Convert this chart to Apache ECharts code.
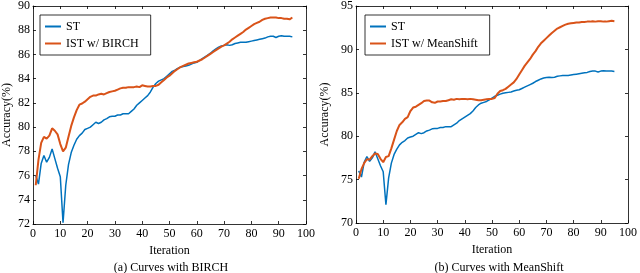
<!DOCTYPE html>
<html><head><meta charset="utf-8">
<script src="https://cdn.jsdelivr.net/npm/echarts@6/dist/echarts.min.js"></script>
<style>html,body{margin:0;padding:0;background:#fff}#c{width:640px;height:273px}</style>
</head><body><div id="c"></div>
<script>
const iterations = [];
for (let i = 1; i <= 95; i++) iterations.push(i);

const xTicks = [0,10,20,30,40,50,60,70,80,90,100];

const stValues = [
76.0,75.3,77.0,77.65,77.1,77.5,78.2,77.4,76.6,75.9,
72.1,75.2,76.9,77.9,78.5,79.0,79.3,79.5,79.8,79.9,
80.0,80.2,80.4,80.3,80.4,80.6,80.7,80.85,80.9,80.9,
81.0,81.0,81.1,81.1,81.1,81.3,81.5,81.8,82.0,82.2,
82.4,82.6,82.9,83.3,83.6,83.8,83.9,84.0,84.2,84.4,
84.6,84.7,84.85,84.95,85.0,85.05,85.1,85.2,85.3,85.35,
85.5,85.65,85.8,85.95,86.1,86.3,86.45,86.6,86.7,86.75,
86.8,86.75,86.8,86.9,86.95,87.0,87.0,87.0,87.05,87.1,
87.15,87.2,87.25,87.3,87.35,87.45,87.5,87.5,87.4,87.5,
87.55,87.5,87.5,87.5,87.45
];

const birchValues = [
75.2,77.3,78.7,79.2,79.05,79.3,79.9,79.7,79.4,78.6,
78.0,78.3,79.2,80.1,80.8,81.4,81.85,81.95,82.1,82.3,
82.5,82.6,82.6,82.7,82.75,82.7,82.8,82.9,82.95,83.0,
83.1,83.2,83.25,83.25,83.3,83.3,83.3,83.35,83.3,83.45,
83.4,83.35,83.35,83.4,83.4,83.5,83.7,83.9,84.1,84.25,
84.45,84.65,84.8,84.95,85.05,85.15,85.25,85.3,85.35,85.4,
85.5,85.6,85.75,85.9,86.05,86.2,86.35,86.5,86.65,86.75,
86.9,87.05,87.25,87.4,87.55,87.7,87.85,88.05,88.2,88.35,
88.5,88.6,88.7,88.85,88.95,89.0,89.05,89.05,89.05,89.0,
89.0,88.95,88.95,88.9,89.05
];

const meanShiftValues = [
75.1,76.2,76.9,77.35,77.3,77.7,78.0,77.95,77.4,77.0,
77.6,77.7,78.6,79.6,80.6,81.3,81.6,82.0,82.2,82.9,
83.3,83.4,83.6,83.8,84.05,84.1,84.1,83.9,83.85,84.0,
84.0,84.05,84.05,84.15,84.25,84.2,84.3,84.25,84.3,84.3,
84.25,84.3,84.25,84.2,84.15,84.15,84.2,84.25,84.3,84.3,
84.4,84.9,85.2,85.3,85.45,85.7,85.95,86.2,86.6,87.1,
87.6,88.1,88.5,88.9,89.4,89.8,90.3,90.7,91.0,91.3,
91.6,91.9,92.15,92.4,92.55,92.7,92.85,92.95,93.0,93.05,
93.1,93.1,93.15,93.15,93.2,93.2,93.25,93.2,93.25,93.25,
93.2,93.2,93.25,93.3,93.25
];

const leftYRange = [72, 90, 2];
const rightYRange = [70, 95, 5];
const seriesNames = ['ST', 'IST w/ BIRCH', 'IST w/ MeanShift'];
const captions = ['(a) Curves with BIRCH', '(b) Curves with MeanShift'];

const FONT = 'Liberation Serif';
const BLUE = '#0072BD', ORANGE = '#D95319';

function pairs(vals){ return vals.map((v,i)=>[iterations[i], v]); }

function xAx(grid, top){
  return {
    type:'value', gridIndex:grid, min:xTicks[0], max:xTicks[xTicks.length-1], interval:10,
    position: top ? 'top' : 'bottom',
    name: top ? '' : 'Iteration', nameLocation:'middle', nameGap:19,
    nameTextStyle:{fontFamily:FONT, fontSize:12, color:'#000'},
    axisLine:{show:true, onZero:false, lineStyle:{color:'#000', width:0.8}},
    axisTick:{show:true, inside:true, length:3, lineStyle:{color:'#000', width:0.8}},
    axisLabel:{show:!top, fontFamily:FONT, fontSize:12, color:'#000', margin:4},
    splitLine:{show:false}
  };
}
function yAx(grid, right, r, gap){
  return {
    type:'value', gridIndex:grid, min:r[0], max:r[1], interval:r[2],
    position: right ? 'right' : 'left',
    name: right ? '' : 'Accuracy(%)', nameLocation:'middle', nameGap:gap,
    nameTextStyle:{fontFamily:FONT, fontSize:12, color:'#000'},
    axisLine:{show:true, onZero:false, lineStyle:{color:'#000', width:0.8}},
    axisTick:{show:true, inside:true, length:3, lineStyle:{color:'#000', width:0.8}},
    axisLabel:{show:!right, fontFamily:FONT, fontSize:12, color:'#000', margin:3},
    splitLine:{show:false}
  };
}
function legend(left, names){
  return {
    orient:'vertical', left:left, top:15,
    data:names.map(n=>({name:n, icon:'rect'})),
    backgroundColor:'#fff', borderColor:'#000', borderWidth:0.8,
    padding:[5,12,5,5], itemWidth:16, itemHeight:2, itemGap:4,
    textStyle:{fontFamily:FONT, fontSize:12, lineHeight:13, color:'#000'},
    selectedMode:false
  };
}

const chart = echarts.init(document.getElementById('c'), null, {renderer:'canvas'});
chart.setOption({
  animation:false,
  backgroundColor:'#fff',
  grid:[
    {left:28, top:4, width:278, height:220},
    {left:356, top:3, width:277, height:220}
  ],
  xAxis:[xAx(0,false), xAx(0,true), xAx(1,false), xAx(1,true)],
  yAxis:[yAx(0,false,leftYRange,20), yAx(0,true,leftYRange,0), yAx(1,false,rightYRange,25), yAx(1,true,rightYRange,0)],
  legend:[legend(40,[seriesNames[0],seriesNames[1]]), legend(365,[seriesNames[0],seriesNames[2]])],
  title:[
    {text:captions[0], left:166, top:257, textAlign:'center', textStyle:{fontFamily:FONT, fontSize:12, fontWeight:'normal', color:'#000'}},
    {text:captions[1], left:494, top:257, textAlign:'center', textStyle:{fontFamily:FONT, fontSize:12, fontWeight:'normal', color:'#000'}}
  ],
  series:[
    {name:seriesNames[0], type:'line', xAxisIndex:0, yAxisIndex:0, data:pairs(stValues), symbol:'none', lineStyle:{color:BLUE, width:1.5}, itemStyle:{color:BLUE}, z:2},
    {name:seriesNames[1], type:'line', xAxisIndex:0, yAxisIndex:0, data:pairs(birchValues), symbol:'none', lineStyle:{color:ORANGE, width:2}, itemStyle:{color:ORANGE}, z:3},
    {name:seriesNames[0], type:'line', xAxisIndex:2, yAxisIndex:2, data:pairs(stValues), symbol:'none', lineStyle:{color:BLUE, width:1.5}, itemStyle:{color:BLUE}, z:2},
    {name:seriesNames[2], type:'line', xAxisIndex:2, yAxisIndex:2, data:pairs(meanShiftValues), symbol:'none', lineStyle:{color:ORANGE, width:2}, itemStyle:{color:ORANGE}, z:3}
  ]
});
</script></body></html>
